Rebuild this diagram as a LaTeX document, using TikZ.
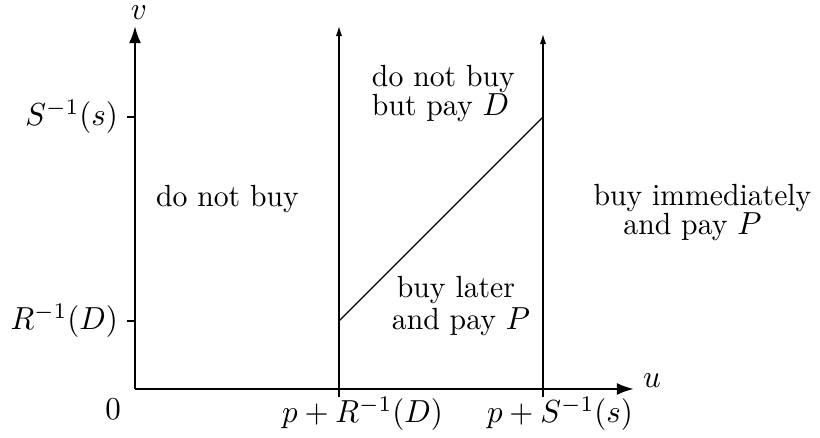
\documentclass[tikz,border=0pt]{standalone}
\usetikzlibrary{arrows.meta}
\begin{document}
\begin{tikzpicture}[x=0.3135pt,y=-0.3135pt,
  axis/.style={line width=0.75pt,-{Latex[length=5.4pt,width=3.8pt]}},
  thinarrow/.style={line width=0.4pt,-{Latex[length=3.2pt,width=2pt]}},
  thinline/.style={line width=0.4pt},
  lbl/.style={inner sep=0pt,outer sep=0pt,font=\fontsize{9.6pt}{11pt}\selectfont,xscale=0.97,transform shape}]
\useasboundingbox (0,0) rectangle (820,438);
% coordinates
\coordinate (O) at (135,389);
\coordinate (vtop) at (135,26);
\coordinate (uend) at (634,389);
\coordinate (a1) at (339,397);
\coordinate (a1top) at (339,26);
\coordinate (a2) at (543,397);
\coordinate (a2top) at (543,34);
\coordinate (dlow) at (339,321);
\coordinate (dhigh) at (543,117);
\coordinate (t1a) at (127,117);
\coordinate (t1b) at (135,117);
\coordinate (t2a) at (127,321);
\coordinate (t2b) at (135,321);
% axes
\draw[axis] (O) -- (vtop);
\draw[axis] (O) -- (uend);
% vertical lines
\draw[thinarrow] (a1) -- (a1top);
\draw[thinarrow] (a2) -- (a2top);
% diagonal
\draw[thinline] (dlow) -- (dhigh);
% ticks
\draw[thinline] (t1a) -- (t1b);
\draw[thinline] (t2a) -- (t2b);
% axis labels
\node[lbl,anchor=base] (vl) at (139,19.5) {$v$};
\node[lbl,anchor=base] (ul) at (652,388) {$u$};
\node[lbl,anchor=base] (zero) at (113,420) {$0$};
\node[lbl,anchor=east] (sl) at (118,117) {$S^{-1}(s)$};
\node[lbl,anchor=east] (rl) at (118,321) {$R^{-1}(D)$};
\node[lbl,anchor=base] (pr) at (362.5,423) {$p+R^{-1}(D)$};
\node[lbl,anchor=base] (ps) at (560,423) {$p+S^{-1}(s)$};
% region labels
\node[lbl,anchor=base] (r1) at (227.5,207) {do not buy};
\node[lbl,anchor=base west] (r2a) at (372,87) {do not buy};
\node[lbl,anchor=base west] (r2b) at (372,116) {but pay $D$};
\node[lbl,anchor=base] (r3a) at (702.5,206) {buy immediately};
\node[lbl,anchor=base] (r3b) at (692.5,235) {and pay $P$};
\node[lbl,anchor=base] (r4a) at (456,298) {buy later};
\node[lbl,anchor=base] (r4b) at (461,330) {and pay $P$};
\end{tikzpicture}
\end{document}
